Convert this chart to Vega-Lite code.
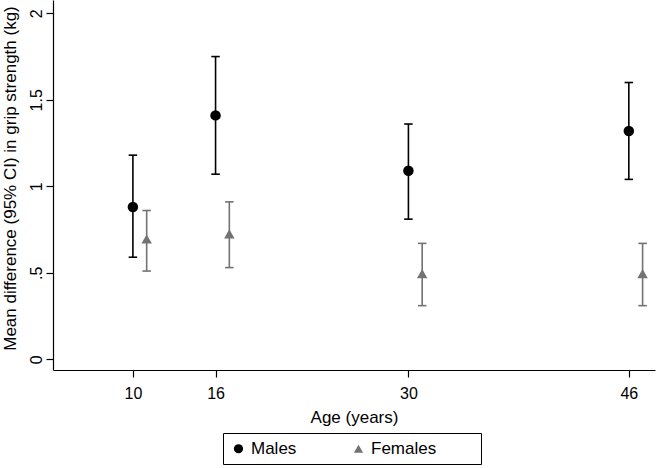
{
  "$schema": "https://vega.github.io/schema/vega-lite/v6.json",
  "autosize": {"type": "none"},
  "width": 602,
  "height": 370,
  "padding": {"left": 53, "top": 0, "right": 1, "bottom": 98},
  "background": "white",
  "config": {
    "view": {"stroke": null},
    "font": "Liberation Sans",
    "axis": {
      "domainColor": "#000000",
      "domainWidth": 1.2,
      "tickColor": "#000000",
      "tickWidth": 1.2,
      "tickSize": 7,
      "labelColor": "#000000",
      "titleColor": "#000000",
      "labelFont": "Liberation Sans",
      "titleFont": "Liberation Sans",
      "labelFontSize": 16,
      "titleFontSize": 17,
      "titleFontWeight": "normal",
      "grid": false
    },
    "legend": {
      "orient": "none",
      "legendX": 170,
      "legendY": 433,
      "direction": "horizontal",
      "strokeColor": "#000000",
      "padding": 7,
      "columnPadding": 53,
      "labelOffset": 4,
      "symbolSize": 85,
      "labelFontSize": 17,
      "labelFont": "Liberation Sans",
      "labelColor": "#000000",
      "symbolStrokeWidth": 0
    }
  },
  "data": {
    "values": [
      {"sex": "Males", "age": 10, "pos": 10, "mean": 0.88, "lo": 0.59, "hi": 1.18},
      {"sex": "Males", "age": 16, "pos": 16, "mean": 1.41, "lo": 1.07, "hi": 1.75},
      {"sex": "Males", "age": 30, "pos": 30, "mean": 1.09, "lo": 0.81, "hi": 1.36},
      {"sex": "Males", "age": 46, "pos": 46, "mean": 1.32, "lo": 1.04, "hi": 1.60},
      {"sex": "Females", "age": 10, "pos": 11, "mean": 0.695, "lo": 0.51, "hi": 0.86},
      {"sex": "Females", "age": 16, "pos": 17, "mean": 0.725, "lo": 0.53, "hi": 0.91},
      {"sex": "Females", "age": 30, "pos": 31, "mean": 0.495, "lo": 0.31, "hi": 0.67},
      {"sex": "Females", "age": 46, "pos": 47, "mean": 0.495, "lo": 0.31, "hi": 0.67}
    ]
  },
  "encoding": {
    "x": {
      "field": "pos",
      "type": "quantitative",
      "scale": {"domain": [4.2, 47.9], "nice": false, "zero": false},
      "axis": {
        "title": "Age (years)",
        "values": [10, 16, 30, 46],
        "labelPadding": 8,
        "titleY": 52,
        "titleBaseline": "alphabetic"
      }
    },
    "color": {
      "field": "sex",
      "type": "nominal",
      "title": null,
      "scale": {"domain": ["Males", "Females"], "range": ["#000000", "#737373"]},
      "legend": {"labelExpr": "datum.label == 'Females' ? 'Females\u00a0\u00a0\u00a0\u00a0\u00a0\u00a0\u00a0\u00a0\u200b' : datum.label"}
    }
  },
  "layer": [
    {
      "mark": {"type": "rule", "strokeWidth": 1.6},
      "encoding": {
        "y": {
          "field": "lo",
          "type": "quantitative",
          "scale": {"domain": [-0.062, 2.077], "nice": false, "zero": false},
          "axis": {
            "title": "Mean difference (95% CI) in grip strength (kg)",
            "values": [0, 0.5, 1, 1.5, 2],
            "labelExpr": "datum.value == 0.5 ? '.5' : format(datum.value, '~g')",
            "labelAngle": 270,
            "labelAlign": "center",
            "labelBaseline": "alphabetic",
            "labelPadding": 5,
            "titleAngle": 270,
            "titleX": -38,
            "titleY": 178,
            "titleAlign": "center",
            "titleBaseline": "alphabetic"
          }
        },
        "y2": {"field": "hi"}
      }
    },
    {
      "mark": {"type": "point", "shape": "M-1,0L1,0", "size": 72, "filled": false, "strokeWidth": 1.6, "opacity": 1},
      "encoding": {
        "y": {"field": "lo", "type": "quantitative"}
      }
    },
    {
      "mark": {"type": "point", "shape": "M-1,0L1,0", "size": 72, "filled": false, "strokeWidth": 1.6, "opacity": 1},
      "encoding": {
        "y": {"field": "hi", "type": "quantitative"}
      }
    },
    {
      "mark": {"type": "point", "filled": true, "opacity": 1},
      "encoding": {
        "y": {"field": "mean", "type": "quantitative"},
        "shape": {
          "field": "sex",
          "type": "nominal",
          "title": null,
          "scale": {"domain": ["Males", "Females"], "range": ["circle", "triangle-up"]},
          "legend": {"labelExpr": "datum.label == 'Females' ? 'Females\u00a0\u00a0\u00a0\u00a0\u00a0\u00a0\u00a0\u00a0\u200b' : datum.label"}
        },
        "size": {"value": 110}
      }
    }
  ]
}
